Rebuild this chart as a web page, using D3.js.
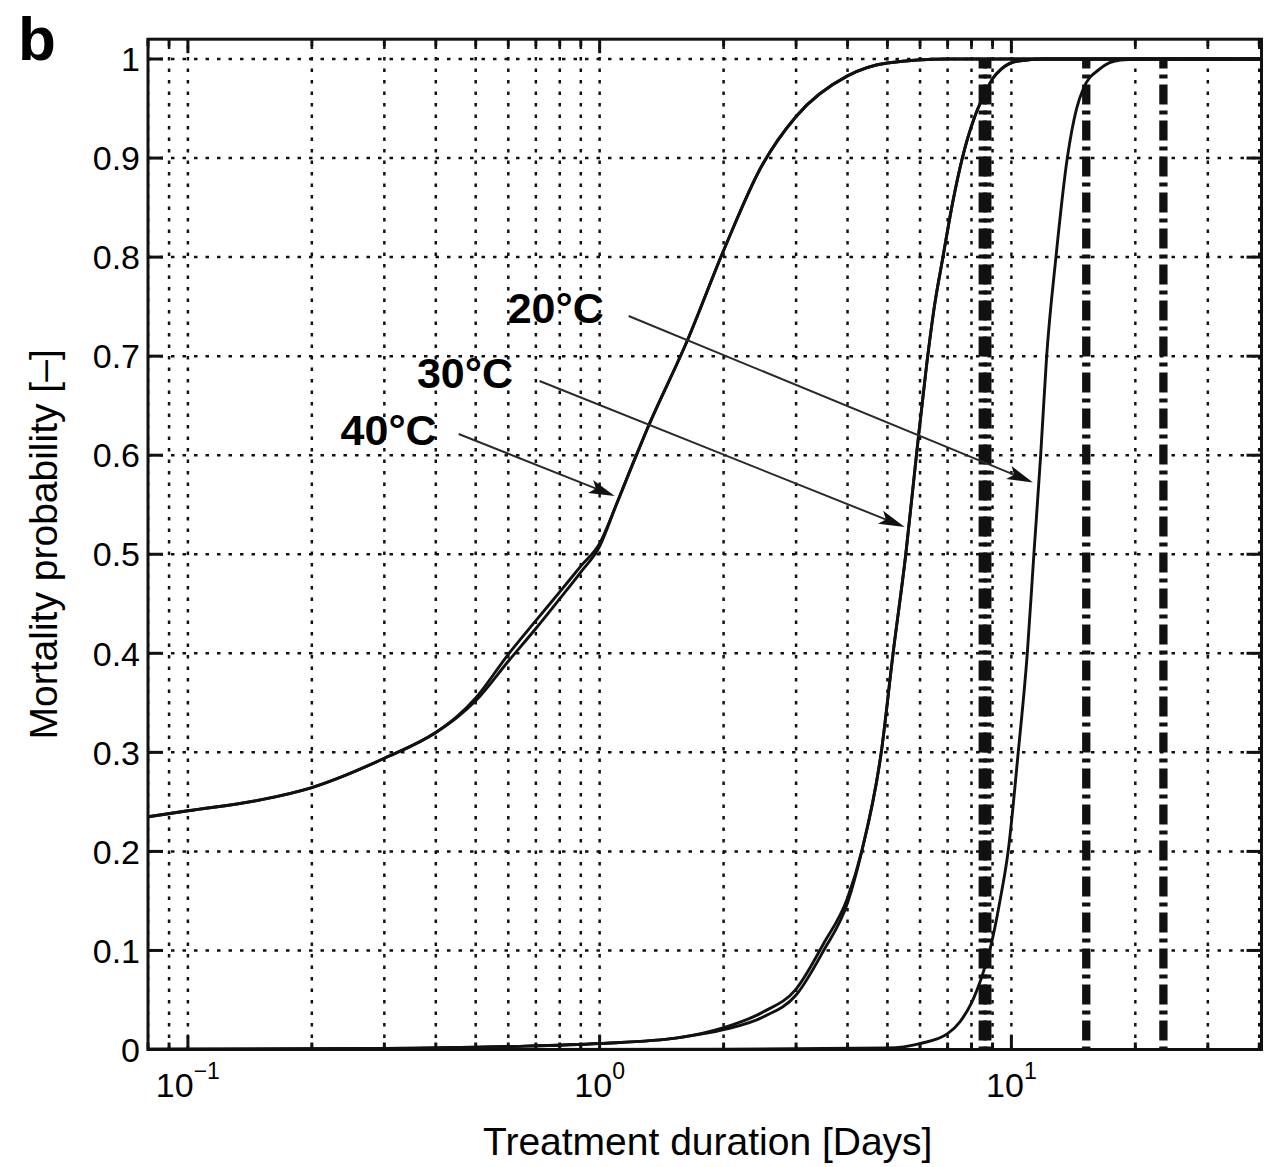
<!DOCTYPE html>
<html><head><meta charset="utf-8">
<script src="https://cdn.jsdelivr.net/npm/d3@7"></script>
<style>
body{margin:0;background:#fff}
svg{display:block}
text{font-family:"Liberation Sans",Arial,Helvetica,sans-serif;fill:#000}
</style>
</head><body>
<svg id="c" width="1269" height="1167"></svg>
<script>
// ---------- data ----------
const panelLabel = "b";
const xLabel = "Treatment duration [Days]";
const yLabel = "Mortality probability [–]";
const xDomain = [0.08, 40.5];
const yDomain = [0, 1.02];
const yTicks = [0, 0.1, 0.2, 0.3, 0.4, 0.5, 0.6, 0.7, 0.8, 0.9, 1];
const yTickLabels = ["0", "0.1", "0.2", "0.3", "0.4", "0.5", "0.6", "0.7", "0.8", "0.9", "1"];
const xMajorTicks = [0.1, 1, 10];
const xMajorExponents = ["\u22121", "0", "1"];
const xMinorTicks = [0.08, 0.09, 0.2, 0.3, 0.4, 0.5, 0.6, 0.7, 0.8, 0.9,
                     2, 3, 4, 5, 6, 7, 8, 9, 20, 30, 40];

// 40 °C
const days40  = [0.08, 0.1, 0.15, 0.2, 0.3, 0.4, 0.45, 0.5, 0.6, 0.7, 0.8, 0.9, 1.0, 1.1, 1.2, 1.3, 1.63, 2.02, 2.46, 3, 4, 5, 7, 40.5];
const prob40a = [0.235, 0.241, 0.252, 0.2645, 0.294, 0.32, 0.335, 0.352, 0.392, 0.425, 0.455, 0.482, 0.508, 0.551, 0.59, 0.625, 0.715, 0.811, 0.89, 0.942, 0.983, 0.996, 1, 1];
const prob40b = [0.235, 0.241, 0.252, 0.2645, 0.294, 0.32, 0.336, 0.355, 0.399, 0.433, 0.462, 0.488, 0.511, 0.551, 0.59, 0.625, 0.715, 0.811, 0.89, 0.942, 0.983, 0.996, 1, 1];
// 30 °C
const days30  = [0.08, 0.3, 0.6, 1, 1.56, 2, 2.5, 3, 3.5, 4, 4.33, 4.83, 5.16, 5.54, 5.88, 6.22, 6.5, 6.82, 7.2, 7.6, 8.15, 8.62, 9.0, 9.46, 10.4, 12, 40.5];
const prob30a = [0.0003, 0.001, 0.003, 0.006, 0.012, 0.02, 0.033, 0.055, 0.1, 0.148, 0.2, 0.3, 0.4, 0.5, 0.6, 0.69, 0.75, 0.8, 0.855, 0.9, 0.942, 0.965, 0.98, 0.99, 0.998, 1, 1];
const prob30b = [0.0003, 0.001, 0.003, 0.006, 0.012, 0.022, 0.038, 0.061, 0.107, 0.153, 0.2, 0.3, 0.4, 0.5, 0.6, 0.69, 0.75, 0.8, 0.855, 0.9, 0.942, 0.965, 0.98, 0.99, 0.998, 1, 1];
// 20 °C
const days20  = [0.08, 2, 5, 6, 7, 7.5, 8, 8.5, 8.86, 9.38, 9.82, 10.39, 10.93, 11.34, 11.78, 12.18, 12.83, 13.67, 14.4, 14.95, 16.4, 18.4, 21, 40.5];
const prob20  = [0, 0.0002, 0.0015, 0.006, 0.016, 0.028, 0.047, 0.075, 0.1, 0.15, 0.2, 0.3, 0.4, 0.5, 0.6, 0.7, 0.8, 0.9, 0.95, 0.97, 0.99, 0.999, 1, 1];

// vertical dash-dot reference lines (days)
const thresholdDays = [8.52, 8.74, 15.2, 23.4];

// annotations (data coordinates)
const labelNames  = ["20°C", "30°C", "40°C"];
const labelX      = [1.023, 0.616, 0.402];
const labelY      = [0.7335, 0.6674, 0.6103];
const arrowFromX  = [1.176, 0.7147, 0.4546];
const arrowFromY  = [0.7405, 0.6749, 0.6214];
const arrowToX    = [11.28, 5.507, 1.088];
const arrowToY    = [0.5725, 0.5275, 0.5588];

// ---------- chart ----------
const W = 1269, H = 1167;
const L = 148, R = 1261.5, T = 39.2, B = 1049.5;
const svg = d3.select("#c");
svg.append("rect").attr("width", W).attr("height", H).attr("fill", "#fff");

const x = d3.scaleLog().domain(xDomain).range([L, R]);
const y = d3.scaleLinear().domain(yDomain).range([B, T]);

svg.append("clipPath").attr("id", "clip").append("rect")
  .attr("x", L).attr("y", T).attr("width", R - L).attr("height", B - T);

const plot = svg.append("g").attr("clip-path", "url(#clip)");

// grid
const allX = xMajorTicks.concat(xMinorTicks);
plot.selectAll(".vg").data(allX).join("line")
  .attr("x1", d => x(d)).attr("x2", d => x(d))
  .attr("y1", B).attr("y2", T)
  .attr("stroke", "#111").attr("stroke-width", 2.5)
  .attr("stroke-dasharray", "3.5,8");
plot.selectAll(".hg").data(yTicks).join("line")
  .attr("x1", L).attr("x2", R)
  .attr("y1", d => y(d)).attr("y2", d => y(d))
  .attr("stroke", "#111").attr("stroke-width", 2.5)
  .attr("stroke-dasharray", "3.5,8");

// curves
const line = d3.line().x(d => x(d[0])).y(d => y(d[1])).curve(d3.curveMonotoneX);
const series = [
  d3.zip(days40, prob40a), d3.zip(days40, prob40b),
  d3.zip(days30, prob30a), d3.zip(days30, prob30b),
  d3.zip(days20, prob20)
];
plot.selectAll(".curve").data(series).join("path")
  .attr("d", line).attr("fill", "none")
  .attr("stroke", "#111").attr("stroke-width", 2.9)
  .attr("stroke-linejoin", "round");

// thick dash-dot vertical lines
plot.selectAll(".thr").data(thresholdDays).join("line")
  .attr("x1", d => x(d)).attr("x2", d => x(d))
  .attr("y1", y(0)).attr("y2", y(1))
  .attr("stroke", "#111").attr("stroke-width", 8.3)
  .attr("stroke-dasharray", "20,6,4,6")
  .attr("stroke-dashoffset", 27);

// arrows
const ag = svg.append("g");
labelNames.forEach((n, i) => {
  const x1 = x(arrowFromX[i]), y1 = y(arrowFromY[i]);
  const x2 = x(arrowToX[i]), y2 = y(arrowToY[i]);
  const ang = Math.atan2(y2 - y1, x2 - x1);
  const hl = 26, hw = 7;
  const bx = x2 - hl * Math.cos(ang), by = y2 - hl * Math.sin(ang);
  ag.append("line")
    .attr("x1", x1).attr("y1", y1).attr("x2", bx + 6 * Math.cos(ang)).attr("y2", by + 6 * Math.sin(ang))
    .attr("stroke", "#2a2a2a").attr("stroke-width", 2);
  const px = -Math.sin(ang), py = Math.cos(ang);
  const nx = x2 - 0.78 * hl * Math.cos(ang), ny = y2 - 0.78 * hl * Math.sin(ang);
  ag.append("path")
    .attr("d", `M${x2},${y2} L${bx + px * hw},${by + py * hw} L${nx},${ny} L${bx - px * hw},${by - py * hw} Z`)
    .attr("fill", "#111");
  ag.append("text")
    .attr("x", x(labelX[i])).attr("y", y(labelY[i]))
    .attr("text-anchor", "end")
    .attr("font-size", 43).attr("font-weight", "bold")
    .text(n);
});

// frame
svg.append("rect").attr("x", L).attr("y", T).attr("width", R - L).attr("height", B - T)
  .attr("fill", "none").attr("stroke", "#111").attr("stroke-width", 3);

// ticks
const tg = svg.append("g").attr("stroke", "#111").attr("stroke-width", 3);
yTicks.forEach(t => {
  tg.append("line").attr("x1", L).attr("x2", L + 15).attr("y1", y(t)).attr("y2", y(t));
  tg.append("line").attr("x1", R - 15).attr("x2", R).attr("y1", y(t)).attr("y2", y(t));
});
xMajorTicks.forEach(t => {
  tg.append("line").attr("x1", x(t)).attr("x2", x(t)).attr("y1", B).attr("y2", B - 14);
  tg.append("line").attr("x1", x(t)).attr("x2", x(t)).attr("y1", T).attr("y2", T + 14);
});
xMinorTicks.forEach(t => {
  tg.append("line").attr("x1", x(t)).attr("x2", x(t)).attr("y1", B).attr("y2", B - 7);
  tg.append("line").attr("x1", x(t)).attr("x2", x(t)).attr("y1", T).attr("y2", T + 7);
});

// tick labels
svg.selectAll(".yl").data(yTicks).join("text")
  .attr("x", 140).attr("y", d => y(d)).attr("dy", "0.36em")
  .attr("text-anchor", "end").attr("font-size", 34)
  .text((d, i) => yTickLabels[i]);

xMajorTicks.forEach((t, i) => {
  const tx = svg.append("text").attr("x", x(t)).attr("y", 1097)
    .attr("text-anchor", "middle").attr("font-size", 34);
  tx.append("tspan").text("10");
  tx.append("tspan").attr("font-size", 23).attr("dy", -18).text(xMajorExponents[i]);
});

// axis titles
svg.append("text").attr("x", (L + R) / 2 + 3).attr("y", 1155)
  .attr("text-anchor", "middle").attr("font-size", 39).text(xLabel);
svg.append("text").attr("transform", `translate(57,${(T + B) / 2}) rotate(-90)`)
  .attr("text-anchor", "middle").attr("font-size", 39).text(yLabel);

// panel label
svg.append("text").attr("x", 18).attr("y", 60)
  .attr("font-size", 62).attr("font-weight", "bold").text(panelLabel);
</script>
</body></html>
